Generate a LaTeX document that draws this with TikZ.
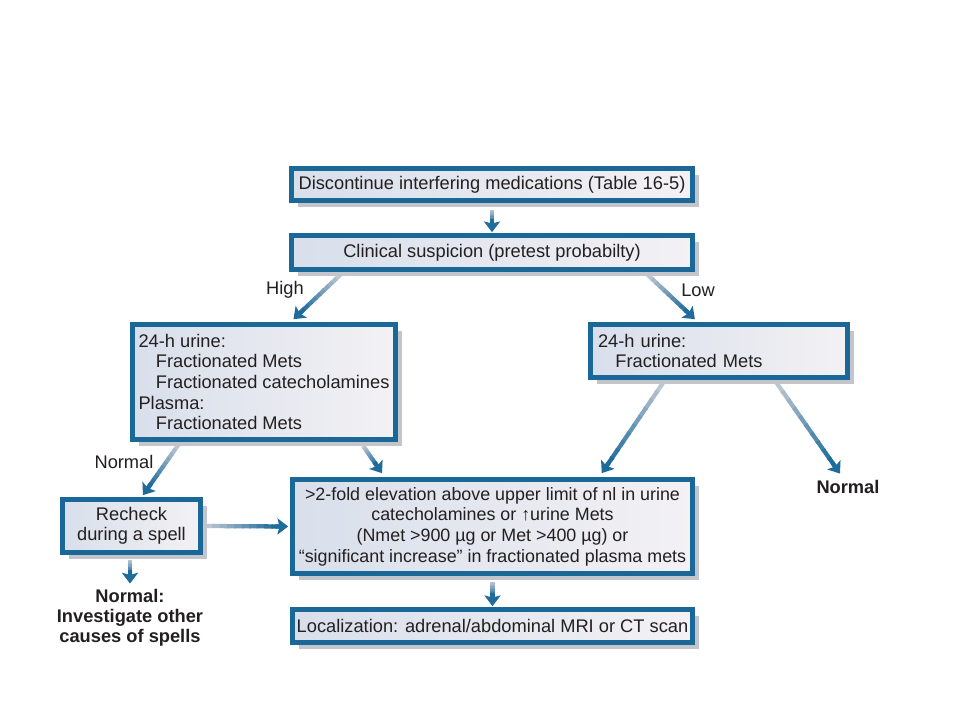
\documentclass[tikz,border=0pt]{standalone}
\usepackage{fontspec}
\setmainfont{Liberation Sans}
\usetikzlibrary{calc,shadows,arrows.meta}

\definecolor{boxblue}{HTML}{1A6898}
\definecolor{boxleft}{HTML}{D8DFEB}
\definecolor{boxright}{HTML}{F3F1F4}
\definecolor{shadowgray}{HTML}{C4C4CB}
\definecolor{flowblue}{HTML}{1F6B9C}
\definecolor{flowgray}{HTML}{CDD0D8}
\definecolor{textgray}{HTML}{231F20}

\tikzset{
  box/.style={draw=boxblue, line width=3.5pt, left color=boxleft, right color=boxright,
    drop shadow={shadow xshift=5pt, shadow yshift=-5pt, fill=shadowgray, opacity=1},
    text=textgray, font=\fontsize{13.7}{15.4}\selectfont, inner sep=0pt},
  flowline/.style={line width=3.2pt},
  flowhead/.style={line width=3.2pt, flowblue, -{Stealth[width=12pt,length=8pt,inset=1.5pt]}},
  lbl/.style={text=textgray, font=\fontsize{13.7}{15.4}\selectfont},
  endnote/.style={text=textgray, font=\bfseries\fontsize{13.7}{15.2}\selectfont, align=center},
}

% gradient arrow: grey at the tail, blue at the head
\newcommand{\flowarrow}[2]{%
  \coordinate (fa) at (#1);
  \coordinate (fb) at ($(#2)!7pt!(#1)$);
  \foreach \k in {0,...,9}{%
    \pgfmathsetmacro{\ta}{\k/10}%
    \pgfmathsetmacro{\tb}{min((\k+1.2)/10,1)}%
    \pgfmathtruncatemacro{\mix}{10*\k+10}%
    \draw[flowline, color=flowblue!\mix!flowgray] ($(fa)!\ta!(fb)$) -- ($(fa)!\tb!(fb)$);
  }
  \draw[flowhead] ($(#2)!10pt!(#1)$) -- (#2);
}

\begin{document}
\begin{tikzpicture}[x=0.75pt, y=-0.75pt]
  \useasboundingbox[fill=white] (0,0) rectangle (960,720);

  % Boxes
  \node[box, minimum width=300.75pt, minimum height=24pt] (disc) at (492,184.5)
    {Discontinue interfering medications (Table 16-5)};
  \node[box, minimum width=300.75pt, minimum height=25.5pt] (clin) at (492,252.5)
    {Clinical suspicion (pretest probabilty)};
  \node[box, minimum width=197.25pt, minimum height=86.25pt, align=left] (highbox) at (264,382)
    {24-h urine:\\ \hspace*{0.95em}Fractionated Mets\\ \hspace*{0.95em}Fractionated catecholamines\\ Plasma:\\ \hspace*{0.95em}Fractionated Mets};
  \node[box, minimum width=192.75pt, minimum height=39.75pt, text width=181.5pt, align=left] (lowbox) at (719,351)
    {24-h urine:\\ \hspace*{0.95em}Fractionated Mets};
  \node[box, minimum width=103.5pt, minimum height=39.75pt, align=center] (recheck) at (131.5,526)
    {Recheck\\ during a spell};
  \node[box, minimum width=300pt, minimum height=70.5pt, align=center, font=\fontsize{13.4}{15.5}\selectfont] (elev) at (492.5,526.5)
    {>2-fold elevation above upper limit of nl in urine\\ catecholamines or ↑urine Mets\\ (Nmet >900 µg or Met >400 µg) or\\ “significant increase” in fractionated plasma mets};
  \node[box, minimum width=300pt, minimum height=24.75pt] (localiz) at (492.5,626)
    {Localization: adrenal/abdominal MRI or CT scan};

  % Labels and outcomes
  \node[lbl] (high) at (285,290) {High};
  \node[lbl] (low) at (698,290) {Low};
  \node[lbl] (normleft) at (124,462) {Normal};
  \node[endnote] (normright) at (848,487) {Normal};
  \node[endnote] (normspell) at (130,618) {Normal:\\ Investigate other\\ causes of spells};

  % Arrow ends
  \coordinate (a1) at ($(disc.south)+(0,7)$);
  \coordinate (b1) at ($(clin.north)+(0,-1)$);
  \coordinate (a2) at ($(clin.south west)!0.126!(clin.south east)+(0,3)$);
  \coordinate (b2) at ($(highbox.north west)!0.61!(highbox.north east)+(0,-3)$);
  \coordinate (a3) at ($(clin.south west)!0.884!(clin.south east)+(0,3)$);
  \coordinate (b3) at ($(lowbox.north west)!0.408!(lowbox.north east)+(0,-3)$);
  \coordinate (a4) at ($(highbox.south west)!0.18!(highbox.south east)+(0,3)$);
  \coordinate (b4) at ($(recheck.north west)!0.58!(recheck.north east)+(0,-2)$);
  \coordinate (a5) at ($(highbox.south west)!0.87!(highbox.south east)+(0,4)$);
  \coordinate (b5) at ($(elev.north west)!0.227!(elev.north east)+(0,-4)$);
  \coordinate (a6) at ($(lowbox.south west)!0.286!(lowbox.south east)+(0,3)$);
  \coordinate (b6) at ($(elev.north west)!0.77!(elev.north east)+(0,-4)$);
  \coordinate (a7) at ($(lowbox.south west)!0.72!(lowbox.south east)+(0,3)$);
  \coordinate (b7) at ($(normright.north)+(-8,-2)$);
  \coordinate (a8) at ($(recheck.east)+(2,0)$);
  \coordinate (b8) at ($(elev.west)+(-2,0)$);
  \coordinate (a9) at ($(recheck.south)+(-1.5,5)$);
  \coordinate (b9) at ($(normspell.north)+(0,-1)$);
  \coordinate (a10) at ($(elev.south)+(0,6)$);
  \coordinate (b10) at ($(localiz.north)+(0,-1)$);

  % Arrows
  \flowarrow{a1}{b1}
  \flowarrow{a2}{b2}
  \flowarrow{a3}{b3}
  \flowarrow{a4}{b4}
  \flowarrow{a5}{b5}
  \flowarrow{a6}{b6}
  \flowarrow{a7}{b7}
  \flowarrow{a8}{b8}
  \flowarrow{a9}{b9}
  \flowarrow{a10}{b10}
\end{tikzpicture}
\end{document}
